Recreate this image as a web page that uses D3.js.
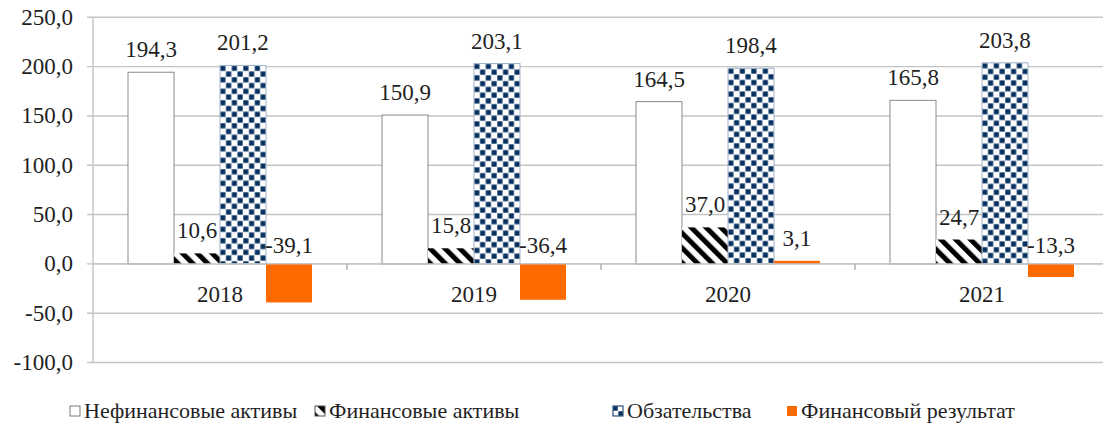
<!DOCTYPE html>
<html><head><meta charset="utf-8">
<script src="https://cdn.jsdelivr.net/npm/d3@7"></script>
</head><body style="margin:0">
<svg id="c" width="1103" height="425"></svg>
<script>
const years = ["2018","2019","2020","2021"];
const seriesNames = ["Нефинансовые активы","Финансовые активы","Обзательства","Финансовый результат"];
const nonFin = [194.3,150.9,164.5,165.8];
const fin = [10.6,15.8,37.0,24.7];
const oblig = [201.2,203.1,198.4,203.8];
const finRes = [-39.1,-36.4,3.1,-13.3];
const yTicks = [250,200,150,100,50,0,-50,-100];

(function(){
const seriesVals = [nonFin, fin, oblig, finRes];
const svg = d3.select("#c").style("display","block");
const GRID = "#c4c4c4";
const TXT = "#1f1f1f";
function T(sel){ return sel.attr("font-family","Times New Roman").style("font-family","'Times New Roman'").attr("fill",TXT); }

const pL = 93, pR = 1109, pT = 17.3, pB = 362.5;
const y = d3.scaleLinear().domain([-100,250]).range([pB, pT]);
const x0 = d3.scaleBand().domain(years).range([pL, pR]).paddingInner(0.2756).paddingOuter(0.1378);
const x1 = d3.scaleBand().domain(d3.range(4)).range([0, x0.bandwidth()]);

const defs = svg.append("defs");
const sp = defs.append("pattern").attr("id","stripes").attr("patternUnits","userSpaceOnUse")
  .attr("width",10.5).attr("height",10.5).attr("patternTransform","rotate(-45)");
sp.append("rect").attr("width",10.5).attr("height",10.5).attr("fill","#fff");
sp.append("rect").attr("width",5).attr("height",10.5).attr("fill","#000");

function checker(id, xp, yp, s) {
  const p = defs.append("pattern").attr("id",id).attr("patternUnits","userSpaceOnUse")
    .attr("x",xp).attr("y",yp).attr("width",2*s).attr("height",2*s);
  p.append("rect").attr("width",2*s).attr("height",2*s).attr("fill","#fff");
  p.append("rect").attr("x",0.3).attr("y",0.3).attr("width",s-0.6).attr("height",s-0.6).attr("fill","#05305f");
  p.append("rect").attr("x",s+0.3).attr("y",s+0.3).attr("width",s-0.6).attr("height",s-0.6).attr("fill","#05305f");
}

svg.append("g").selectAll("line").data(yTicks).join("line")
  .attr("x1", pL-6).attr("x2", 1103).attr("y1", d=>y(d)).attr("y2", d=>y(d))
  .attr("stroke", GRID).attr("stroke-width", 1.4);
svg.append("line").attr("x1",pL).attr("x2",pL).attr("y1",pT).attr("y2",pB)
  .attr("stroke",GRID).attr("stroke-width",1.4);
T(svg.append("g").selectAll("text").data(yTicks).join("text")
  .attr("x", pL-20).attr("y", d=>y(d)+7.5).attr("text-anchor","end")
  .attr("font-size",23))
  .text(d=>d3.format(".1f")(d).replace(".",",").replace("−","-"));

const tickXs = years.map(yr => x0(yr) - x0.step()*x0.paddingOuter());
svg.append("g").selectAll("line").data(tickXs.slice(1)).join("line")
  .attr("x1",d=>d).attr("x2",d=>d).attr("y1",y(0)).attr("y2",y(0)+6)
  .attr("stroke","#999").attr("stroke-width",1.2);

const fills = ["#fff","url(#stripes)",null,"#ff6a00"];
const strokes = ["#8a8a8a","none","#9fb2c8","none"];

years.forEach((yr, i) => {
  const g = svg.append("g");
  seriesVals.forEach((vals, s) => {
    const v = vals[i];
    const bx = x0(yr) + x1(s), bw = x1.bandwidth();
    const by = y(Math.max(0,v)), bh = Math.abs(y(v)-y(0));
    let fill = fills[s];
    if (s === 2) { const id = "chk"+i; checker(id, bx, by, bw/8); fill = "url(#"+id+")"; }
    g.append("rect").attr("x",bx).attr("y",by).attr("width",bw).attr("height",Math.max(bh,1.5))
      .attr("fill",fill).attr("stroke",strokes[s]).attr("stroke-width",1);
    T(g.append("text").attr("x",bx+bw/2).attr("y", v>=0 ? y(v)-15 : y(0)-11)
      .attr("text-anchor","middle").attr("font-size",23))
      .text(d3.format(".1f")(v).replace(".",",").replace("−","-"));
  });
  T(svg.append("text").attr("x", x0(yr)+x0.bandwidth()/2).attr("y",302)
    .attr("text-anchor","middle").attr("font-size",23)).text(yr);
});
svg.append("line").attr("x1",pL).attr("x2",1103).attr("y1",y(0)).attr("y2",y(0))
  .attr("stroke",GRID).attr("stroke-width",1.4);

const legX = [70, 315, 613, 787];
const leg = svg.append("g");
checker("chkLeg", 613, 406, 5);
const legFills = ["#fff","url(#stripes)","url(#chkLeg)","#ff6a00"];
const legStroke = ["#7a7a7a","#555","#05305f","none"];
seriesNames.forEach((n, s) => {
  leg.append("rect").attr("x",legX[s]).attr("y",406).attr("width",10).attr("height",10)
    .attr("fill",legFills[s]).attr("stroke",legStroke[s]).attr("stroke-width",1);
  T(leg.append("text").attr("x",legX[s]+14).attr("y",418)
    .attr("font-size",22)).text(n);
});
})();
</script>
</body></html>
